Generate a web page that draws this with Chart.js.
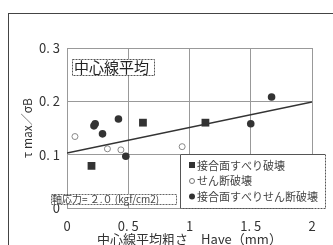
<!DOCTYPE html>
<html>
<head>
<meta charset="utf-8">
<script src="https://cdn.jsdelivr.net/npm/chart.js@4"></script>
<style>
  html, body { margin: 0; padding: 0; background: #fff; }
  #wrap { width: 333px; height: 245px; position: relative; }
</style>
</head>
<body>
<div id="wrap"><canvas id="roughChart"></canvas></div>
<script>
// data
var seriesNames = ['接合面すべり破壊', 'せん断破壊', '接合面すべりせん断破壊'];
var slipX = [0.20, 0.62, 1.13];
var slipY = [0.079, 0.160, 0.160];
var shearX = [0.065, 0.33, 0.44, 0.94];
var shearY = [0.134, 0.111, 0.109, 0.115];
var bothX = [0.22, 0.23, 0.29, 0.42, 0.48, 1.50, 1.67];
var bothY = [0.154, 0.158, 0.139, 0.167, 0.097, 0.158, 0.208];
var trendX = [0, 2];
var trendY = [0.103, 0.199];
var xTicks = [0, 0.5, 1, 1.5, 2];
var yTicks = [0, 0.1, 0.2, 0.3];

function pts(xs, ys) {
    return xs.map(function(x, i) { return { x: x, y: ys[i] }; });
}

var font = '"Noto Sans CJK JP", "Noto Sans", sans-serif';

// frame, title box, note box and legend
var decorations = {
    id: 'decorations',
    afterDraw: function(chart) {
        var ctx = chart.ctx;
        ctx.save();
        // outer frame
        ctx.strokeStyle = '#444';
        ctx.lineWidth = 1;
        ctx.strokeRect(8.5, 13.5, 340, 240);

        // title box
        ctx.fillStyle = '#fff';
        ctx.fillRect(72, 59, 82, 16);
        ctx.setLineDash([2, 1]);
        ctx.strokeStyle = '#555';
        ctx.strokeRect(72.5, 59.5, 82, 16);
        ctx.setLineDash([]);
        ctx.fillStyle = '#222';
        ctx.font = '15px ' + font;
        ctx.textBaseline = 'middle';
        ctx.textAlign = 'left';
        ctx.fillText('中心線平均', 74, 67.5);

        // axial stress note
        ctx.fillStyle = '#fff';
        ctx.fillRect(51, 194, 125, 10);
        ctx.setLineDash([2, 1]);
        ctx.strokeStyle = '#666';
        ctx.strokeRect(51.5, 194.5, 125, 10);
        ctx.setLineDash([]);
        ctx.fillStyle = '#444';
        ctx.font = '10px ' + font;
        ctx.fillText('軸応力= ２.０ (kgf/cm2)', 52, 199.5);

        // legend box
        ctx.fillStyle = '#fff';
        ctx.fillRect(180, 154, 145, 54);
        ctx.strokeStyle = '#555';
        ctx.beginPath();
        ctx.moveTo(180.5, 208); ctx.lineTo(180.5, 154.5); ctx.lineTo(325, 154.5);
        ctx.stroke();
        ctx.setLineDash([2, 1]);
        ctx.beginPath();
        ctx.moveTo(325.5, 154.5); ctx.lineTo(325.5, 208.5); ctx.lineTo(180.5, 208.5);
        ctx.stroke();
        ctx.setLineDash([]);

        var rows = [165.5, 181, 196.5];
        ctx.font = '11px ' + font;
        // marks
        ctx.fillStyle = '#333';
        ctx.fillRect(189, 162, 6, 6);
        ctx.beginPath();
        ctx.strokeStyle = '#777';
        ctx.arc(192, rows[1], 2.5, 0, Math.PI * 2);
        ctx.stroke();
        ctx.beginPath();
        ctx.arc(192, rows[2], 3, 0, Math.PI * 2);
        ctx.fill();
        ctx.fillStyle = '#444';
        for (var i = 0; i < seriesNames.length; i++) {
            ctx.fillText(seriesNames[i], 197, rows[i]);
        }
        ctx.restore();
    }
};

var ctx = document.getElementById('roughChart').getContext('2d');
var roughChart = new Chart(ctx, {
    type: 'scatter',
    data: {
        datasets: [{
            label: '近似線',
            type: 'line',
            data: pts(trendX, trendY),
            borderColor: '#333',
            borderWidth: 1.5,
            pointRadius: 0,
            fill: false
        }, {
            label: seriesNames[0],
            data: pts(slipX, slipY),
            pointStyle: 'rect',
            pointRadius: 5.5,
            backgroundColor: '#333',
            borderColor: '#333',
            borderWidth: 0
        }, {
            label: seriesNames[1],
            data: pts(shearX, shearY),
            pointStyle: 'circle',
            pointRadius: 3,
            backgroundColor: '#fff',
            borderColor: '#888',
            borderWidth: 1
        }, {
            label: seriesNames[2],
            data: pts(bothX, bothY),
            pointStyle: 'circle',
            pointRadius: 3.8,
            backgroundColor: '#333',
            borderColor: '#333',
            borderWidth: 0
        }]
    },
    options: {
        responsive: true,
        maintainAspectRatio: false,
        animation: false,
        layout: { padding: { left: 0, right: 21, top: 48, bottom: 0 } },
        plugins: {
            legend: { display: false },
            tooltip: { enabled: false }
        },
        scales: {
            x: {
                type: 'linear',
                min: 0,
                max: 2,
                afterBuildTicks: function(scale) {
                    scale.ticks = xTicks.map(function(v) { return { value: v }; });
                },
                afterFit: function(scale) { scale.height = 37; },
                grid: { color: '#999', lineWidth: 1, drawTicks: false },
                border: { color: '#999' },
                ticks: {
                    color: '#333',
                    padding: 10,
                    font: { family: font, size: 13 },
                    callback: function(v) { return v === 0 || v % 1 === 0 ? String(v) : v.toFixed(1).replace('.', '. '); }
                },
                title: {
                    display: true,
                    text: '中心線平均粗さ　Have（mm）',
                    color: '#333',
                    font: { family: font, size: 13, lineHeight: 1 },
                    padding: { top: 0, bottom: -1 }
                }
            },
            y: {
                type: 'linear',
                min: 0,
                max: 0.3,
                afterBuildTicks: function(scale) {
                    scale.ticks = yTicks.map(function(v) { return { value: v }; });
                },
                afterFit: function(scale) { scale.width = 67; },
                grid: { color: '#999', lineWidth: 1, drawTicks: false },
                border: { color: '#999' },
                ticks: {
                    color: '#333',
                    padding: 7,
                    font: { family: font, size: 13 },
                    callback: function(v) { return v === 0 ? '0' : v.toFixed(1).replace('.', '. '); }
                },
                title: {
                    display: true,
                    text: 'τ max／σB',
                    color: '#333',
                    font: { family: font, size: 12, lineHeight: 1 },
                    padding: { top: 21, bottom: 0 }
                }
            }
        }
    },
    plugins: [decorations]
});
</script>
</body>
</html>
